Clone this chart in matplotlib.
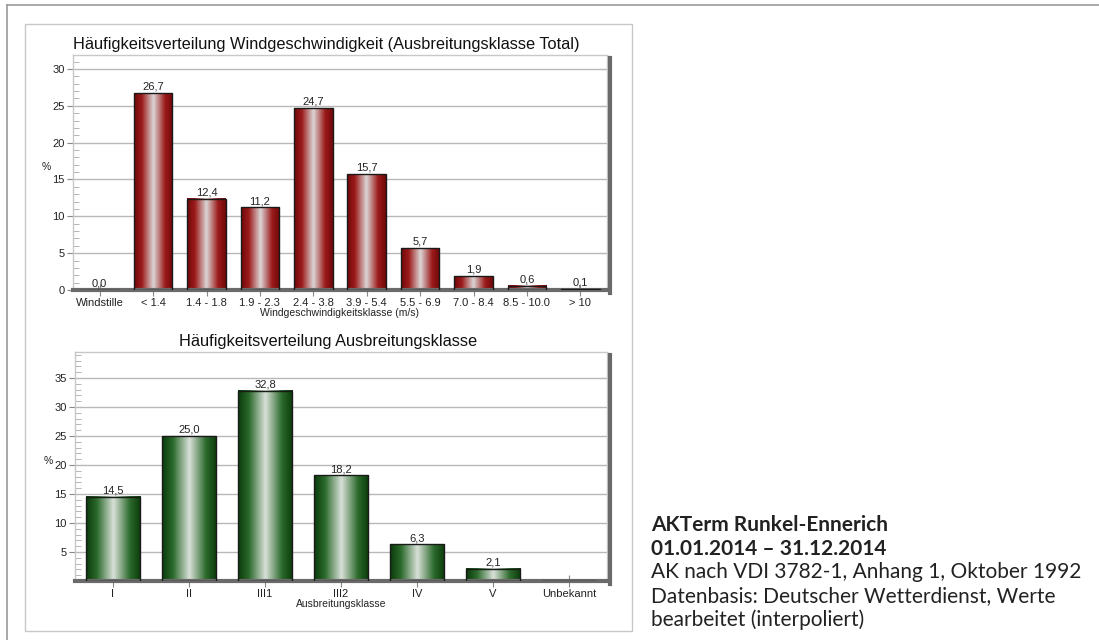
import numpy as np
import matplotlib
matplotlib.use("Agg")
import matplotlib.pyplot as plt
from matplotlib.colors import LinearSegmentedColormap
from matplotlib.patches import Rectangle
from matplotlib.lines import Line2D
import matplotlib.transforms as mtransforms

# Windgeschwindigkeitsklassen (Ausbreitungsklasse Total)
wind_classes = ["Windstille", "< 1.4", "1.4 - 1.8", "1.9 - 2.3", "2.4 - 3.8",
                "3.9 - 5.4", "5.5 - 6.9", "7.0 - 8.4", "8.5 - 10.0", "> 10"]
wind_share = [0.0, 26.7, 12.4, 11.2, 24.7, 15.7, 5.7, 1.9, 0.6, 0.1]

# Ausbreitungsklassen
ak_classes = ["I", "II", "III1", "III2", "IV", "V", "Unbekannt"]
ak_share = [14.5, 25.0, 32.8, 18.2, 6.3, 2.1, None]

info_lines = ["AKTerm Runkel-Ennerich",
              "01.01.2014 \u2013 31.12.2014",
              "AK nach VDI 3782-1, Anhang 1, Oktober 1992",
              "Datenbasis: Deutscher Wetterdienst, Werte",
              "bearbeitet (interpoliert)"]

red_cmap = LinearSegmentedColormap.from_list(
    "red_bar", [(0.0, "#700808"), (0.2, "#9c1b1b"), (0.5, "#dcd5d5"),
                (0.8, "#9c1b1b"), (1.0, "#700808")])
green_cmap = LinearSegmentedColormap.from_list(
    "green_bar", [(0.0, "#0a3a0a"), (0.2, "#2c6a2c"), (0.5, "#d9e1d9"),
                  (0.8, "#2c6a2c"), (1.0, "#0a3a0a")])

W, H = 1099, 640
fig = plt.figure(figsize=(W / 100, H / 100), dpi=100)
plt.rcParams["font.family"] = ["Liberation Sans", "DejaVu Sans"]

# outer frame and chart panel (behind the axes)
fig.add_artist(Line2D([7 / W, 7 / W], [0, 1 - 5 / H], transform=fig.transFigure,
                      color="#9a9a9a", lw=1.2, zorder=-2))
fig.add_artist(Line2D([7 / W, 1], [1 - 5 / H, 1 - 5 / H], transform=fig.transFigure,
                      color="#9a9a9a", lw=1.2, zorder=-2))
fig.add_artist(Rectangle((25 / W, 1 - 631 / H), 607 / W, 607 / H,
                         transform=fig.transFigure, facecolor="white",
                         edgecolor="#c8c8c8", lw=1.0, zorder=-1))

gradient = np.linspace(0, 1, 256).reshape(1, -1)


def bar_chart(ax, labels, values, cmap, ymax, title, xlabel, yticks):
    x = np.arange(len(labels))
    heights = [v if v is not None else 0 for v in values]
    bars = ax.bar(x, heights, width=0.72, color="none", edgecolor="#1a1a1a",
                  linewidth=1.0, zorder=3)
    for rect, v in zip(bars, values):
        if v is None:
            continue
        x0, w, h = rect.get_x(), rect.get_width(), rect.get_height()
        if h > 0:
            ax.imshow(gradient, cmap=cmap, aspect="auto",
                      extent=[x0, x0 + w, 0, h], zorder=2, interpolation="bilinear")
        ax.text(x0 + w / 2, h + ymax * 0.006, f"{v:.1f}".replace(".", ","),
                ha="center", va="bottom", fontsize=8, color="#222222", zorder=4)

    ax.set_xlim(-0.5, len(labels) - 0.5)
    ax.set_ylim(0, ymax)
    ax.set_xticks(x)
    ax.set_xticklabels(labels, fontsize=8, color="#222222")
    ax.set_yticks(yticks)
    ax.set_yticklabels([str(t) for t in yticks], fontsize=8, color="#222222")
    ax.set_yticks(np.arange(1, int(ymax) + 1), minor=True)
    ax.tick_params(axis="y", which="major", direction="out", length=4,
                   color="#888888", pad=2)
    ax.tick_params(axis="y", which="minor", direction="in", length=4,
                   color="#aaaaaa")
    ax.tick_params(axis="x", direction="inout", length=9, color="#888888", pad=1)
    ax.grid(axis="y", which="major", color="#b8b8b8", lw=1.0, zorder=1)
    ax.set_axisbelow(True)
    for side in ("top", "left", "right"):
        ax.spines[side].set_color("#c8c8c8")
        ax.spines[side].set_linewidth(1.0)
    ax.spines["bottom"].set_color("#6a6a6a")
    ax.spines["bottom"].set_linewidth(3.0)

    # shadow on the right hand side
    shift = mtransforms.ScaledTranslation(3 / 100, -3 / 100, fig.dpi_scale_trans)
    ax.add_line(Line2D([1, 1], [0, 1], transform=ax.transAxes + shift,
                       color="#6a6a6a", lw=3.0, clip_on=False, zorder=5))

    ax.set_title(title, fontsize=11.8, color="#111111", pad=4, x=0.475)
    ax.set_xlabel(xlabel, fontsize=7.5, color="#222222", labelpad=0)
    ax.set_ylabel("%", fontsize=7.5, rotation=0, color="#222222", labelpad=4)


ax1 = fig.add_axes([73 / W, 1 - 290 / H, 534 / W, 235 / H])
bar_chart(ax1, wind_classes, wind_share, red_cmap, 31.9,
          "Häufigkeitsverteilung Windgeschwindigkeit (Ausbreitungsklasse Total)",
          "Windgeschwindigkeitsklasse (m/s)", [0, 5, 10, 15, 20, 25, 30])

ax2 = fig.add_axes([75 / W, 1 - 581 / H, 532 / W, 229 / H])
bar_chart(ax2, ak_classes, ak_share, green_cmap, 39.5,
          "Häufigkeitsverteilung Ausbreitungsklasse",
          "Ausbreitungsklasse", [5, 10, 15, 20, 25, 30, 35])

# description on the right
y = 525
for i, line in enumerate(info_lines):
    fig.text(651 / W, 1 - y / H, line, fontsize=15, family=["Lato", "DejaVu Sans"],
             fontweight="bold" if i < 2 else "normal", color="#222222",
             va="center", ha="left")
    y += 23.6

fig.savefig("out.png", dpi=100)
